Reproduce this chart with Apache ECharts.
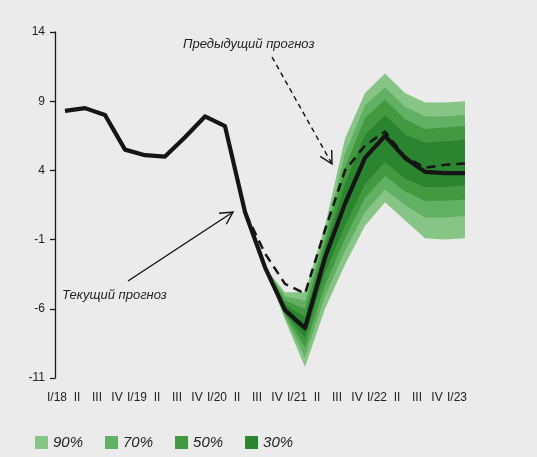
<!DOCTYPE html>
<html><head><meta charset="utf-8">
<script src="https://cdn.jsdelivr.net/npm/echarts@6/dist/echarts.min.js"></script>
<style>html,body{margin:0;padding:0;background:#ebebeb}#c{width:537px;height:457px}</style>
</head><body><div id="c"></div>
<script>
// quarters
const categories = ['I/18','II','III','IV','I/19','II','III','IV','I/20','II','III','IV','I/21','II','III','IV','I/22','II','III','IV','I/23'];
// current forecast (solid)
const current = [8.3,8.5,8.0,5.5,5.1,5.0,6.4,7.9,7.2,1.0,-3.0,-6.1,-7.4,-2.3,1.6,4.9,6.5,4.9,3.9,3.8,3.8];
// previous forecast (dashed)
const previous = [null,null,null,null,null,null,null,null,7.2,1.0,-2.0,-4.2,-4.9,-0.3,4.0,5.8,6.8,5.0,4.2,4.4,4.5];
// fan bands start at category index 10 (III/20)
const fanStart = 10;
const upper90 = [-3.0,-4.8,-4.8, 0.0,6.3,9.6,11.0,9.6,8.9,8.9,9.0];
const upper70 = [-3.0,-5.1,-5.4,-0.6,5.2,8.7,10.0,8.6,7.9,7.9,8.0];
const upper50 = [-3.0,-5.4,-6.0,-1.1,4.2,7.8,9.1,7.7,7.0,7.1,7.2];
const upper30 = [-3.0,-5.7,-6.6,-1.6,3.0,6.6,8.0,6.6,6.0,6.1,6.2];
const lower30 = [-3.0,-6.3,-8.1,-3.4,0.0,3.0,4.6,3.4,2.8,2.8,2.9];
const lower50 = [-3.0,-6.4,-8.8,-4.3,-0.9,2.0,3.6,2.5,1.8,1.8,1.9];
const lower70 = [-3.0,-6.6,-9.5,-5.1,-1.8,1.0,2.6,1.5,0.6,0.6,0.7];
const lower90 = [-3.0,-6.8,-10.2,-6.0,-2.8,0.0,1.7,0.4,-0.9,-1.0,-0.9];
const bandNames = ['90%','70%','50%','30%'];
const bandColors = ['#86c585','#62b063','#42993f','#2b8530'];

const FONT = 'Liberation Sans';

function band(name, upper, lower, color, z){
  return {
    type:'custom', name:name, itemStyle:{color:color}, data:[0], silent:true, z:z,
    renderItem:function(params, api){
      const pts = [];
      for (let i=0;i<upper.length;i++) pts.push(api.coord([fanStart+i, upper[i]]));
      for (let i=lower.length-1;i>=0;i--) pts.push(api.coord([fanStart+i, lower[i]]));
      return {type:'polygon', shape:{points:pts}, style:{fill:color}};
    }
  };
}

function arrow(x1,y1,x2,y2,dash){
  const dx=x2-x1, dy=y2-y1, L=Math.hypot(dx,dy);
  const bx=-dx/L, by=-dy/L, a=28*Math.PI/180, len=14;
  const c=Math.cos(a), s=Math.sin(a);
  const w1=[x2+len*(bx*c-by*s), y2+len*(bx*s+by*c)];
  const w2=[x2+len*(bx*c+by*s), y2+len*(-bx*s+by*c)];
  return [
    {type:'line', shape:{x1:x1,y1:y1,x2:x2,y2:y2}, style:{stroke:'#111', lineWidth:1.4, lineDash:dash?[5,4]:null}, z:100},
    {type:'polyline', shape:{points:[w1,[x2,y2],w2]}, style:{stroke:'#111', lineWidth:1.4, fill:null}, z:100}
  ];
}

const chart = echarts.init(document.getElementById('c'));
chart.setOption({
  backgroundColor:'#ebebeb',
  animation:false,
  grid:{left:65, right:72, top:32, bottom:79},
  xAxis:{
    type:'category', data:categories, boundaryGap:false,
    axisLine:{show:false}, axisTick:{show:false}, splitLine:{show:false},
    axisLabel:{interval:0, color:'#222', fontSize:12, fontFamily:FONT, margin:14, padding:[0,16,0,0]}
  },
  yAxis:{
    type:'value', min:-11, max:14, interval:5, offset:10,
    axisLine:{show:true, lineStyle:{color:'#1a1a1a', width:1.3}},
    axisTick:{show:true, length:5, lineStyle:{color:'#1a1a1a', width:1.3}},
    splitLine:{show:false},
    axisLabel:{color:'#222', fontSize:12, fontFamily:FONT, margin:10}
  },
  legend:{
    data:bandNames, icon:'rect', itemWidth:13, itemHeight:13, left:35, top:435, itemGap:22, padding:0,
    textStyle:{fontStyle:'italic', fontSize:15, color:'#222', fontFamily:FONT}
  },
  series:[
    band('90%', upper90, lower90, bandColors[0], 1),
    band('70%', upper70, lower70, bandColors[1], 2),
    band('50%', upper50, lower50, bandColors[2], 3),
    band('30%', upper30, lower30, bandColors[3], 4),
    {type:'line', name:'prev', data:previous, symbol:'none', z:10,
      lineStyle:{color:'#151515', width:2.5, type:[9,6]}},
    {type:'line', name:'cur', data:current, symbol:'none', z:11,
      lineStyle:{color:'#151515', width:4.2, join:'round'}}
  ],
  graphic:[
    {type:'text', left:183, top:38, style:{text:'Предыдущий прогноз', font:'italic 13px "'+FONT+'"', fill:'#222'}},
    {type:'text', left:62, top:289, style:{text:'Текущий прогноз', font:'italic 13px "'+FONT+'"', fill:'#222'}}
  ].concat(arrow(272,57,332,164,true)).concat(arrow(128,281,233,212,false))
});
</script>
</body></html>
